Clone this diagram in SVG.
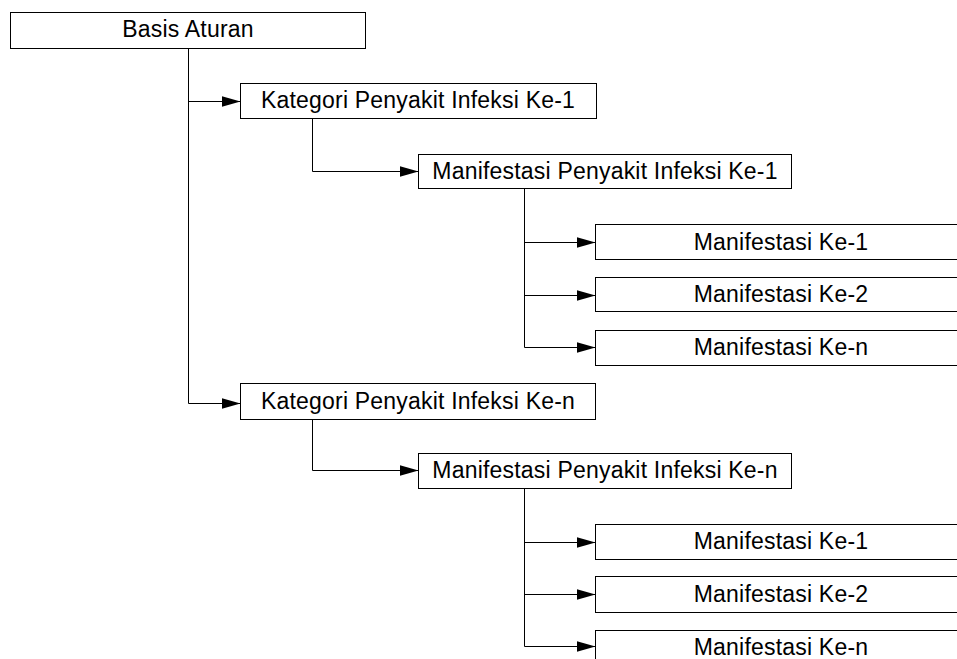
<svg xmlns="http://www.w3.org/2000/svg" width="957" height="659" viewBox="0 0 957 659">
  <style>
    .box { fill: #ffffff; stroke: #000000; stroke-width: 1; }
    .lbl { font-family: "Liberation Sans", Arial, sans-serif; font-size: 23px; letter-spacing: 0.2px; fill: #000000; text-anchor: middle; }
    .link { fill: none; stroke: #000000; stroke-width: 1; marker-end: url(#arrow); }
  </style>
  <defs>
    <marker id="arrow" markerUnits="userSpaceOnUse" viewBox="0 0 19 11" markerWidth="19" markerHeight="11" refX="19" refY="5.5" orient="auto">
      <path d="M0,0 L19,5.5 L0,11 z" fill="#000000"/>
    </marker>
  </defs>
  <rect width="957" height="659" fill="#ffffff"/>

  <!-- connectors -->
  <g id="connectors">
    <path class="link" d="M188.5,48.5 V101.5 H240.5"/>
    <path class="link" d="M188.5,48.5 V403.5 H240.5"/>
    <path class="link" d="M312.5,118.5 V171.5 H418.5"/>
    <path class="link" d="M524.5,188.5 V242.5 H595.5"/>
    <path class="link" d="M524.5,188.5 V295.5 H595.5"/>
    <path class="link" d="M524.5,188.5 V347.5 H595.5"/>
    <path class="link" d="M312.5,419.5 V470.5 H418.5"/>
    <path class="link" d="M524.5,488.5 V542.5 H595.5"/>
    <path class="link" d="M524.5,488.5 V594.5 H595.5"/>
    <path class="link" d="M524.5,488.5 V646.5 H595.5"/>
  </g>

  <!-- nodes -->
  <g id="basis-aturan">
    <rect class="box" x="10.5" y="12.5" width="355" height="36"/>
    <text class="lbl" x="188" y="37">Basis Aturan</text>
  </g>
  <g id="kategori-1">
    <rect class="box" x="240.5" y="83.5" width="356" height="35"/>
    <text class="lbl" x="418" y="108">Kategori Penyakit Infeksi Ke-1</text>
  </g>
  <g id="manifestasi-penyakit-1">
    <rect class="box" x="418.5" y="154.5" width="373" height="34"/>
    <text class="lbl" x="605" y="179">Manifestasi Penyakit Infeksi Ke-1</text>
  </g>
  <g id="manifestasi-1-1">
    <rect class="box" x="595.5" y="224.5" width="370" height="35"/>
    <text class="lbl" x="781" y="250">Manifestasi Ke-1</text>
  </g>
  <g id="manifestasi-1-2">
    <rect class="box" x="595.5" y="277.5" width="370" height="34"/>
    <text class="lbl" x="781" y="302">Manifestasi Ke-2</text>
  </g>
  <g id="manifestasi-1-n">
    <rect class="box" x="595.5" y="330.5" width="370" height="35"/>
    <text class="lbl" x="781" y="355">Manifestasi Ke-n</text>
  </g>
  <g id="kategori-n">
    <rect class="box" x="240.5" y="383.5" width="355" height="36"/>
    <text class="lbl" x="418" y="409">Kategori Penyakit Infeksi Ke-n</text>
  </g>
  <g id="manifestasi-penyakit-n">
    <rect class="box" x="418.5" y="453.5" width="373" height="35"/>
    <text class="lbl" x="605" y="478">Manifestasi Penyakit Infeksi Ke-n</text>
  </g>
  <g id="manifestasi-n-1">
    <rect class="box" x="595.5" y="524.5" width="370" height="35"/>
    <text class="lbl" x="781" y="549">Manifestasi Ke-1</text>
  </g>
  <g id="manifestasi-n-2">
    <rect class="box" x="595.5" y="576.5" width="370" height="36"/>
    <text class="lbl" x="781" y="602">Manifestasi Ke-2</text>
  </g>
  <g id="manifestasi-n-n">
    <rect class="box" x="595.5" y="630.5" width="370" height="35"/>
    <text class="lbl" x="781" y="655">Manifestasi Ke-n</text>
  </g>
</svg>
